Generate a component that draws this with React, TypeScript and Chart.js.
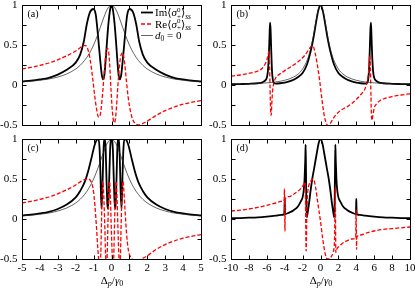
import React, { useEffect, useRef } from "react";
import { Chart, registerables } from "chart.js";
Chart.register(...registerables);

type P = [number, number];

// ---------- tick labels ----------
const yTickValues = [1, 0.5, 0, -0.5];
const yTickLabels = ["1", "0.5", "0", "-0.5"];
const yMinorTicks = [0.75, 0.25, -0.25];
const xTicksNarrow = [-5, -4, -3, -2, -1, 0, 1, 2, 3, 4, 5];
const xTicksWide = [-10, -8, -6, -4, -2, 0, 2, 4, 6, 8, 10];

// ---------- reference curve d0 = 0 ----------
const refNarrow: P[] = [
  [-5, 0.038], [-4.5, 0.047], [-4, 0.059], [-3.5, 0.075], [-3, 0.1], [-2.5, 0.138], [-2, 0.2],
  [-1.75, 0.246], [-1.5, 0.308], [-1.25, 0.39], [-1, 0.5], [-0.75, 0.64], [-0.5, 0.8], [-0.25, 0.941],
  [0, 1], [0.25, 0.941], [0.5, 0.8], [0.75, 0.64], [1, 0.5], [1.25, 0.39], [1.5, 0.308], [1.75, 0.246],
  [2, 0.2], [2.5, 0.138], [3, 0.1], [3.5, 0.075], [4, 0.059], [4.5, 0.047], [5, 0.038],
];
const refWide: P[] = [
  [-10, 0.0099], [-9, 0.012], [-8, 0.0154], [-7, 0.02], [-6, 0.027], [-5, 0.038], [-4, 0.059], [-3, 0.1],
  [-2.5, 0.138], [-2, 0.2], [-1.5, 0.308], [-1.25, 0.39], [-1, 0.5], [-0.75, 0.64], [-0.5, 0.8], [-0.25, 0.941],
  [0, 1], [0.25, 0.941], [0.5, 0.8], [0.75, 0.64], [1, 0.5], [1.25, 0.39], [1.5, 0.308], [2, 0.2],
  [2.5, 0.138], [3, 0.1], [4, 0.059], [5, 0.038], [6, 0.027], [7, 0.02], [8, 0.0154], [9, 0.012], [10, 0.0099],
];
const refNone: P[] = [];

// ---------- panel (a) ----------
const imA: P[] = [
  [-5, 0.045], [-4.5, 0.055], [-4, 0.07], [-3.5, 0.09], [-3, 0.13], [-2.5, 0.19], [-2, 0.28], [-1.75, 0.38],
  [-1.55, 0.54], [-1.38, 0.76], [-1.2, 0.91], [-1.02, 0.95], [-0.88, 0.88], [-0.78, 0.68], [-0.7, 0.48],
  [-0.62, 0.29], [-0.55, 0.14], [-0.47, 0.07], [-0.4, 0.12], [-0.33, 0.3], [-0.25, 0.55], [-0.17, 0.77],
  [-0.08, 0.94], [0, 1.0], [0.08, 0.94], [0.17, 0.77], [0.25, 0.55], [0.33, 0.3], [0.4, 0.12], [0.47, 0.07],
  [0.55, 0.14], [0.62, 0.29], [0.7, 0.48], [0.78, 0.68], [0.88, 0.88], [1.02, 0.95], [1.2, 0.91],
  [1.38, 0.76], [1.55, 0.54], [1.75, 0.38], [2, 0.28], [2.5, 0.19], [3, 0.13], [3.5, 0.09], [4, 0.07],
  [4.5, 0.055], [5, 0.045],
];
const reA: P[] = [
  [-5, 0.2], [-4.5, 0.22], [-4, 0.245], [-3.5, 0.275], [-3, 0.315], [-2.5, 0.365], [-2, 0.425], [-1.75, 0.465],
  [-1.55, 0.495], [-1.42, 0.49], [-1.3, 0.43], [-1.18, 0.3], [-1.05, 0.08], [-0.93, -0.15], [-0.82, -0.32],
  [-0.72, -0.4], [-0.65, -0.39], [-0.57, -0.28], [-0.48, -0.06], [-0.4, 0.18], [-0.32, 0.38], [-0.24, 0.46],
  [-0.17, 0.43], [-0.1, 0.25], [-0.03, -0.05], [0.05, -0.33], [0.14, -0.47], [0.2, -0.45], [0.28, -0.27],
  [0.36, 0.0], [0.45, 0.25], [0.54, 0.38], [0.63, 0.4], [0.72, 0.3], [0.82, 0.08], [0.93, -0.15],
  [1.05, -0.32], [1.2, -0.44], [1.38, -0.49], [1.55, -0.5], [1.75, -0.48], [2, -0.45], [2.5, -0.38],
  [3, -0.32], [3.5, -0.275], [4, -0.24], [4.5, -0.215], [5, -0.195],
];

// ---------- panel (b) ----------
const imB: P[] = [
  [-10, 0.01], [-9, 0.012], [-8, 0.015], [-7, 0.022], [-6.5, 0.033], [-6.2, 0.055], [-6, 0.09], [-5.88, 0.17],
  [-5.78, 0.35], [-5.7, 0.6], [-5.64, 0.78], [-5.58, 0.7], [-5.5, 0.42], [-5.42, 0.18], [-5.32, 0.06],
  [-5.2, 0.025], [-5, 0.018], [-4.5, 0.022], [-4, 0.03], [-3.5, 0.045], [-3, 0.065], [-2.5, 0.1], [-2, 0.15],
  [-1.5, 0.26], [-1.1, 0.42], [-0.8, 0.58], [-0.5, 0.78], [-0.25, 0.93], [0, 1.0], [0.25, 0.93], [0.5, 0.78],
  [0.8, 0.58], [1.1, 0.42], [1.5, 0.26], [2, 0.15], [2.5, 0.1], [3, 0.065], [3.5, 0.045], [4, 0.03],
  [4.5, 0.022], [5, 0.018], [5.2, 0.025], [5.32, 0.06], [5.42, 0.18], [5.5, 0.42], [5.58, 0.7], [5.64, 0.78],
  [5.7, 0.6], [5.78, 0.35], [5.88, 0.17], [6, 0.09], [6.2, 0.055], [6.5, 0.033], [7, 0.022], [8, 0.015],
  [9, 0.012], [10, 0.01],
];
const reB: P[] = [
  [-10, 0.11], [-9, 0.125], [-8, 0.145], [-7, 0.175], [-6.5, 0.21], [-6.2, 0.26], [-6, 0.31], [-5.85, 0.38],
  [-5.76, 0.42], [-5.7, 0.3], [-5.64, -0.02], [-5.58, -0.3], [-5.51, -0.38], [-5.45, -0.25], [-5.35, -0.07],
  [-5.2, 0.03], [-5, 0.09], [-4.5, 0.14], [-4, 0.18], [-3.5, 0.215], [-3, 0.25], [-2.5, 0.29], [-2, 0.34],
  [-1.5, 0.41], [-1.2, 0.46], [-0.95, 0.49], [-0.8, 0.48], [-0.6, 0.4], [-0.35, 0.25], [-0.1, 0.06],
  [0.15, -0.17], [0.4, -0.37], [0.65, -0.48], [0.9, -0.51], [1.2, -0.46], [1.6, -0.39], [2, -0.34],
  [2.5, -0.3], [3, -0.27], [3.5, -0.23], [4, -0.18], [4.5, -0.12], [5, -0.04], [5.25, 0.06], [5.42, 0.22],
  [5.51, 0.37], [5.58, 0.2], [5.64, -0.15], [5.7, -0.4], [5.77, -0.44], [5.85, -0.38], [6, -0.29],
  [6.3, -0.23], [6.7, -0.19], [7, -0.175], [8, -0.145], [9, -0.125], [10, -0.11],
];

// ---------- panel (c) ----------
const imC: P[] = [
  [-5, 0.045], [-4.5, 0.055], [-4, 0.07], [-3.5, 0.09], [-3, 0.125], [-2.5, 0.18], [-2, 0.27], [-1.75, 0.35],
  [-1.5, 0.46], [-1.3, 0.6], [-1.1, 0.78], [-0.95, 0.92], [-0.82, 0.99], [-0.72, 1.0], [-0.66, 0.85],
  [-0.61, 0.5], [-0.56, 0.13], [-0.51, 0.35], [-0.46, 0.78], [-0.41, 0.98], [-0.37, 1.0], [-0.33, 0.9],
  [-0.28, 0.5], [-0.23, 0.18], [-0.19, 0.13], [-0.14, 0.4], [-0.08, 0.85], [-0.04, 0.98], [0, 1.0],
  [0.04, 0.98], [0.08, 0.85], [0.14, 0.4], [0.19, 0.13], [0.23, 0.18], [0.28, 0.5], [0.33, 0.9], [0.37, 1.0],
  [0.41, 0.98], [0.46, 0.78], [0.51, 0.35], [0.56, 0.13], [0.61, 0.5], [0.66, 0.85], [0.72, 1.0], [0.82, 0.99],
  [0.95, 0.92], [1.1, 0.78], [1.3, 0.6], [1.5, 0.46], [1.75, 0.35], [2, 0.27], [2.5, 0.18], [3, 0.125],
  [3.5, 0.09], [4, 0.07], [4.5, 0.055], [5, 0.045],
];
const reC: P[] = [
  [-5, 0.2], [-4.5, 0.22], [-4, 0.245], [-3.5, 0.275], [-3, 0.315], [-2.5, 0.365], [-2, 0.425], [-1.7, 0.47],
  [-1.45, 0.495], [-1.3, 0.5], [-1.15, 0.47], [-1.03, 0.38], [-0.93, 0.18], [-0.84, -0.1], [-0.76, -0.38],
  [-0.7, -0.55], [-0.65, -0.62], [-0.6, -0.45], [-0.56, -0.05], [-0.52, 0.32], [-0.48, 0.47], [-0.44, 0.33],
  [-0.38, -0.05], [-0.33, -0.45], [-0.28, -0.62], [-0.24, -0.45], [-0.2, -0.05], [-0.15, 0.33], [-0.11, 0.47],
  [-0.07, 0.33], [-0.02, -0.05], [0.04, -0.45], [0.09, -0.62], [0.13, -0.45], [0.17, -0.05], [0.22, 0.33],
  [0.26, 0.47], [0.3, 0.33], [0.35, -0.05], [0.41, -0.45], [0.46, -0.62], [0.5, -0.45], [0.54, -0.05],
  [0.59, 0.33], [0.64, 0.47], [0.69, 0.36], [0.76, 0.1], [0.84, -0.18], [0.93, -0.37], [1.05, -0.47],
  [1.2, -0.51], [1.4, -0.52], [1.65, -0.5], [2, -0.46], [2.5, -0.38], [3, -0.32], [3.5, -0.275], [4, -0.24],
  [4.5, -0.215], [5, -0.195],
];

// ---------- panel (d) ----------
const imD: P[] = [
  [-10, 0.01], [-9, 0.012], [-8, 0.016], [-7, 0.021], [-6, 0.03], [-5, 0.042], [-4.4, 0.052], [-4.06, 0.058],
  [-4.02, 0.15], [-4.0, 0.25], [-3.98, 0.15], [-3.94, 0.062], [-3.5, 0.08], [-3, 0.11], [-2.5, 0.16],
  [-2.2, 0.22], [-2, 0.27], [-1.88, 0.35], [-1.78, 0.5], [-1.7, 0.75], [-1.66, 0.93], [-1.62, 0.6],
  [-1.58, 0.2], [-1.54, 0.02], [-1.48, 0.05], [-1.3, 0.18], [-1.1, 0.36], [-0.95, 0.48], [-0.7, 0.64],
  [-0.45, 0.8], [-0.2, 0.95], [0, 1.0], [0.2, 0.95], [0.45, 0.8], [0.7, 0.64], [0.95, 0.48], [1.1, 0.36],
  [1.3, 0.18], [1.48, 0.05], [1.54, 0.02], [1.58, 0.2], [1.62, 0.6], [1.66, 0.93], [1.7, 0.75], [1.78, 0.5],
  [1.88, 0.35], [2, 0.27], [2.2, 0.22], [2.5, 0.16], [3, 0.11], [3.5, 0.08], [3.94, 0.062], [3.98, 0.15],
  [4.0, 0.25], [4.02, 0.15], [4.06, 0.058], [4.4, 0.052], [5, 0.042], [6, 0.03], [7, 0.021], [8, 0.016],
  [9, 0.012], [10, 0.01],
];
const reD: P[] = [
  [-10, 0.1], [-9, 0.11], [-8, 0.125], [-7, 0.145], [-6, 0.17], [-5, 0.2], [-4.4, 0.22], [-4.06, 0.235],
  [-4.03, 0.38], [-4.0, 0.1], [-3.97, -0.15], [-3.94, 0.25], [-3.5, 0.28], [-3, 0.31], [-2.5, 0.35],
  [-2.2, 0.38], [-2, 0.41], [-1.85, 0.44], [-1.74, 0.46], [-1.69, 0.3], [-1.65, -0.05], [-1.61, -0.4],
  [-1.57, -0.25], [-1.52, 0.1], [-1.45, 0.3], [-1.3, 0.42], [-1.1, 0.47], [-0.9, 0.5], [-0.75, 0.49],
  [-0.55, 0.4], [-0.3, 0.2], [0, -0.03], [0.25, -0.25], [0.5, -0.42], [0.75, -0.5], [1, -0.5], [1.2, -0.47],
  [1.4, -0.42], [1.52, -0.35], [1.58, -0.2], [1.62, 0.15], [1.65, 0.39], [1.68, 0.0], [1.71, -0.42],
  [1.76, -0.4], [1.85, -0.37], [2, -0.35], [2.5, -0.3], [3, -0.27], [3.5, -0.25], [3.94, -0.235],
  [3.97, 0.12], [4.0, -0.1], [4.03, -0.38], [4.06, -0.225], [4.5, -0.2], [5, -0.18], [6, -0.15], [7, -0.13],
  [8, -0.12], [9, -0.11], [10, -0.1],
];

const W = 415;
const H = 289;
const SERIF = '"Liberation Serif", "DejaVu Serif", serif';
const RED = "#ff0000";
const THIN = "#222";

interface PanelCfg {
  tag: string;
  area: { l: number; t: number; r: number; b: number };
  xMin: number;
  xMax: number;
  xTicks: number[];
  xLabels: boolean;
  im: P[];
  re: P[];
  ref: P[];
  legend: boolean;
}

const panels: PanelCfg[] = [
  { tag: "(a)", area: { l: 22, t: 5, r: 201, b: 125 }, xMin: -5, xMax: 5, xTicks: xTicksNarrow, xLabels: false, im: imA, re: reA, ref: refNarrow, legend: true },
  { tag: "(b)", area: { l: 231, t: 5, r: 410, b: 125 }, xMin: -10, xMax: 10, xTicks: xTicksWide, xLabels: false, im: imB, re: reB, ref: refWide, legend: false },
  { tag: "(c)", area: { l: 22, t: 139, r: 201, b: 259 }, xMin: -5, xMax: 5, xTicks: xTicksNarrow, xLabels: true, im: imC, re: reC, ref: refNarrow, legend: false },
  { tag: "(d)", area: { l: 231, t: 139, r: 410, b: 259 }, xMin: -10, xMax: 10, xTicks: xTicksWide, xLabels: true, im: imD, re: reD, ref: refNone, legend: false },
];

type Seg = { t: string; size: number; italic?: boolean; dy?: number; stackWith?: { t: string; dy: number } };

function drawRich(ctx: CanvasRenderingContext2D, x: number, y: number, segs: Seg[], align: "left" | "center" = "left") {
  const measure = (s: Seg) => {
    ctx.font = `${s.italic ? "italic " : ""}${s.size}px ${SERIF}`;
    let w = ctx.measureText(s.t).width;
    if (s.stackWith) w = Math.max(w, ctx.measureText(s.stackWith.t).width);
    return w;
  };
  let total = 0;
  for (const s of segs) total += measure(s);
  let cx = align === "center" ? x - total / 2 : x;
  ctx.textAlign = "left";
  ctx.textBaseline = "alphabetic";
  for (const s of segs) {
    const w = measure(s);
    ctx.font = `${s.italic ? "italic " : ""}${s.size}px ${SERIF}`;
    ctx.fillText(s.t, cx, y + (s.dy || 0));
    if (s.stackWith) ctx.fillText(s.stackWith.t, cx, y + s.stackWith.dy);
    cx += w;
  }
}

function makeDecor(cfg: PanelCfg) {
  return {
    id: "decor" + cfg.tag,
    afterDraw(chart: any) {
      const ctx: CanvasRenderingContext2D = chart.ctx;
      const ca = chart.chartArea;
      const xs = chart.scales.x;
      const ys = chart.scales.y;
      ctx.save();
      ctx.setLineDash([]);
      ctx.strokeStyle = "#000";
      ctx.lineWidth = 1;
      const L = Math.round(ca.left) + 0.5;
      const R = Math.round(ca.right) + 0.5;
      const T = Math.round(ca.top) + 0.5;
      const B = Math.round(ca.bottom) + 0.5;
      ctx.strokeRect(L, T, R - L, B - T);
      ctx.beginPath();
      for (const v of cfg.xTicks) {
        const px = Math.round(xs.getPixelForValue(v)) + 0.5;
        ctx.moveTo(px, B); ctx.lineTo(px, B - 4);
        ctx.moveTo(px, T); ctx.lineTo(px, T + 4);
      }
      for (const v of [...yTickValues, ...yMinorTicks]) {
        const py = Math.round(ys.getPixelForValue(v)) + 0.5;
        ctx.moveTo(L, py); ctx.lineTo(L + 4, py);
        ctx.moveTo(R, py); ctx.lineTo(R - 4, py);
      }
      ctx.stroke();

      ctx.fillStyle = "#000";
      ctx.font = `11px ${SERIF}`;
      ctx.textAlign = "right";
      ctx.textBaseline = "middle";
      yTickValues.forEach((v, i) => {
        ctx.fillText(yTickLabels[i], L - 5, ys.getPixelForValue(v));
      });
      if (cfg.xLabels) {
        ctx.textAlign = "center";
        ctx.textBaseline = "middle";
        for (const v of cfg.xTicks) ctx.fillText(String(v), xs.getPixelForValue(v), B + 8.5);
        drawRich(ctx, (L + R) / 2, B + 24, [
          { t: "Δ", size: 11 },
          { t: "p", size: 8, italic: true, dy: 2.5 },
          { t: "/", size: 11 },
          { t: "γ", size: 11, italic: true },
          { t: "0", size: 8, dy: 2.5 },
        ], "center");
      }
      // panel tag
      ctx.font = `10px ${SERIF}`;
      ctx.textAlign = "left";
      ctx.textBaseline = "middle";
      ctx.fillText(cfg.tag, L + 5, T + 9);

      if (cfg.legend) {
        const rows = [
          { y: T + 7, color: "#000", w: 1.8, dash: [] as number[], kind: "im" },
          { y: T + 18.5, color: RED, w: 1.3, dash: [4, 2], kind: "re" },
          { y: T + 30, color: THIN, w: 0.7, dash: [] as number[], kind: "d0" },
        ];
        for (const r of rows) {
          ctx.beginPath();
          ctx.strokeStyle = r.color;
          ctx.lineWidth = r.w;
          ctx.setLineDash(r.dash);
          ctx.moveTo(141, r.y);
          ctx.lineTo(153, r.y);
          ctx.stroke();
          ctx.setLineDash([]);
          ctx.fillStyle = "#000";
          const by = r.y + 3.5;
          if (r.kind === "d0") {
            drawRich(ctx, 155, by, [
              { t: "d", size: 11, italic: true },
              { t: "0", size: 7.5, dy: 2 },
              { t: " = 0", size: 11 },
            ]);
          } else {
            drawRich(ctx, 155, by, [
              { t: r.kind === "im" ? "Im" : "Re", size: 11 },
              { t: "⟨", size: 11 },
              { t: "σ", size: 11, italic: true },
              { t: "0", size: 7, dy: -4.5, stackWith: { t: "+", dy: 2.5 } },
              { t: "⟩", size: 11 },
              { t: "ss", size: 7.5, italic: true, dy: 2.5 },
            ]);
          }
        }
      }
      ctx.restore();
    },
  };
}

function Panel({ cfg }: { cfg: PanelCfg }) {
  const ref = useRef<HTMLCanvasElement | null>(null);
  useEffect(() => {
    if (!ref.current) return;
    const a = cfg.area;
    const line = (data: P[], color: string, width: number, dash: number[]) => ({
      data: data.map(([x, y]) => ({ x, y })),
      borderColor: color,
      borderWidth: width,
      borderDash: dash,
      pointRadius: 0,
      fill: false,
      cubicInterpolationMode: "monotone" as const,
      clip: 0,
    });
    const chart = new Chart(ref.current, {
      type: "line",
      data: {
        datasets: [
          line(cfg.ref, THIN, 0.7, []),
          line(cfg.re, RED, 1.3, [4, 2]),
          line(cfg.im, "#000", 1.8, []),
        ],
      },
      options: {
        animation: false,
        responsive: false,
        devicePixelRatio: 1,
        layout: { padding: { left: a.l, top: a.t, right: W - a.r, bottom: H - a.b } },
        plugins: { legend: { display: false }, tooltip: { enabled: false }, title: { display: false } },
        events: [],
        scales: {
          x: { type: "linear", min: cfg.xMin, max: cfg.xMax, display: false },
          y: { type: "linear", min: -0.5, max: 1, display: false },
        },
      },
      plugins: [makeDecor(cfg)],
    } as any);
    return () => chart.destroy();
  }, [cfg]);
  return <canvas ref={ref} width={W} height={H} style={{ position: "absolute", left: 0, top: 0, width: W, height: H }} />;
}

export default function App() {
  return (
    <div style={{ position: "absolute", left: 0, top: 0, width: W, height: H, background: "#fff" }}>
      {panels.map((p) => (
        <Panel key={p.tag} cfg={p} />
      ))}
    </div>
  );
}
